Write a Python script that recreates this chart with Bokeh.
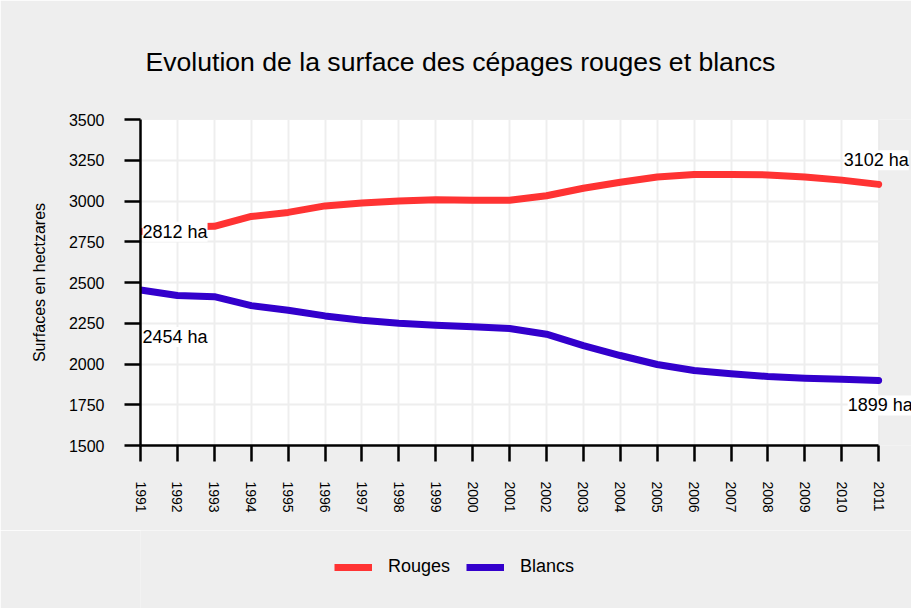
import math
from bokeh.plotting import figure
from bokeh.layouts import column
from bokeh.models import Legend, LegendItem, Label, FixedTicker, Range1d, BoxAnnotation
from bokeh.embed import file_html
from bokeh.resources import INLINE

years = list(range(1991, 2012))
rouges = [2812, 2840, 2845, 2905, 2930, 2970, 2988, 3000, 3008, 3005, 3005,
          3032, 3078, 3115, 3147, 3163, 3163, 3160, 3147, 3128, 3102]
blancs = [2454, 2420, 2413, 2358, 2330, 2295, 2268, 2250, 2238, 2228, 2218,
          2183, 2113, 2052, 1997, 1960, 1940, 1923, 1913, 1907, 1899]
y_ticks = [1500, 1750, 2000, 2250, 2500, 2750, 3000, 3250, 3500]
series_names = ["Rouges", "Blancs"]

FONT = "Liberation Sans"
RED = "#ff3333"
BLUE = "#3300cc"
BG = "#eeeeee"

# frame reaches past the last year so the end labels are not cut at 2011
X_END = years[-1] + 0.89

p = figure(width=911, height=530, output_backend="svg", toolbar_location=None,
           x_range=Range1d(years[0], X_END), y_range=Range1d(y_ticks[0], y_ticks[-1]),
           min_border_left=140, min_border_right=0, min_border_top=119, min_border_bottom=85,
           background_fill_color=BG, border_fill_color=BG)

p.add_layout(BoxAnnotation(left=years[0], right=years[-1], bottom=y_ticks[0], top=y_ticks[-1],
                           fill_color="white", fill_alpha=1, line_color="#cccccc",
                           line_width=1, level="image"))

p.title.text = "Evolution de la surface des cépages rouges et blancs"
p.title.text_font = FONT
p.title.text_font_size = "26.6px"
p.title.text_font_style = "normal"
p.title.text_color = "black"
p.title.align = "left"
p.title.offset = 5
p.title.standoff = 85

p.outline_line_color = None

for ax in (p.xaxis[0], p.yaxis[0]):
    ax.axis_line_width = 2.5
    ax.axis_line_color = "black"
    ax.major_tick_line_width = 2.5
    ax.major_tick_line_color = "black"
    ax.major_tick_out = 16
    ax.major_tick_in = 0
    ax.minor_tick_line_color = None
    ax.major_label_text_font = FONT
    ax.major_label_text_color = "black"
    ax.major_label_standoff = 20

p.xaxis.ticker = FixedTicker(ticks=years)
p.xaxis.bounds = (years[0], years[-1])
p.xaxis.major_label_orientation = -math.pi / 2
p.xaxis.major_label_text_font_size = "14px"
p.yaxis.ticker = FixedTicker(ticks=y_ticks)
p.yaxis.major_label_text_font_size = "16px"
p.yaxis.axis_label = "Surfaces en hectzares"
p.yaxis.axis_label_text_font = FONT
p.yaxis.axis_label_text_font_size = "16px"
p.yaxis.axis_label_text_font_style = "normal"
p.yaxis.axis_label_text_color = "black"
p.yaxis.axis_label_standoff = 18

p.xgrid.ticker = FixedTicker(ticks=years[:-1])
p.ygrid.ticker = FixedTicker(ticks=y_ticks)
p.grid.grid_line_color = BG
p.grid.grid_line_width = 2

p.line(years, rouges, line_color=RED, line_width=7, line_cap="round", line_join="round")
p.line(years, blancs, line_color=BLUE, line_width=7, line_cap="round", line_join="round")

def add_label(x, y, xo, yo):
    p.add_layout(Label(x=x, y=y, text=f"{y} ha", x_offset=xo, y_offset=yo,
                       text_align="left", text_baseline="middle",
                       text_font=FONT, text_font_size="18px", text_color="black",
                       background_fill_color="white", level="overlay"))

add_label(years[0], rouges[0], 2, 0)
add_label(years[0], blancs[0], 2, -47)
add_label(years[-1], rouges[-1], -35, 24)
add_label(years[-1], blancs[-1], -31, -25)

# legend strip below the chart (its lines hold no drawable points)
lg = figure(width=911, height=78, output_backend="svg", toolbar_location=None,
            x_range=Range1d(0, 1), y_range=Range1d(0, 1),
            x_axis_location=None, y_axis_location=None,
            min_border=0, background_fill_color=BG, border_fill_color=BG)
lg.outline_line_color = None
lg.grid.visible = False
lr1 = lg.line([math.nan], [math.nan], line_color=RED, line_width=7)
lr2 = lg.line([math.nan], [math.nan], line_color=BLUE, line_width=7)
legend = Legend(items=[LegendItem(label=series_names[0], renderers=[lr1]),
                       LegendItem(label=series_names[1], renderers=[lr2])],
                orientation="horizontal", location=(194, 31),
                background_fill_alpha=0, border_line_color=None,
                label_text_font=FONT, label_text_font_size="18px", label_text_color="black",
                glyph_width=38, glyph_height=20, spacing=16, label_standoff=16,
                padding=10, margin=0)
lg.add_layout(legend, "center")

layout = column(p, lg, spacing=0)
open("out.html", "w").write(file_html(layout, INLINE))
